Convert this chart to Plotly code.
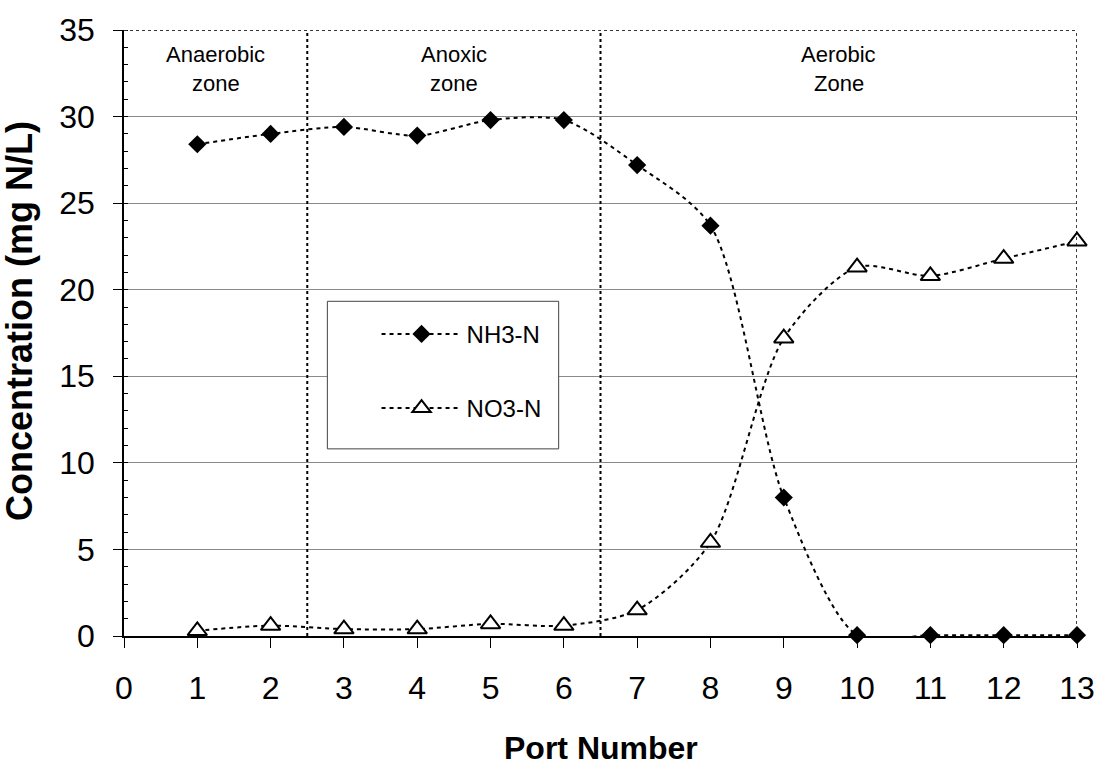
import plotly.graph_objects as go

# Sampling ports along the reactor
ports = [1, 2, 3, 4, 5, 6, 7, 8, 9, 10, 11, 12, 13]

# Measured concentrations (mg N/L)
nh3_n = [28.4, 29.0, 29.4, 28.9, 29.8, 29.8, 27.2, 23.7, 8.0, 0.05, 0.05, 0.05, 0.05]
no3_n = [0.3, 0.6, 0.4, 0.4, 0.7, 0.6, 1.5, 5.4, 17.2, 21.3, 20.8, 21.8, 22.8]

# Zone boundaries (between ports) and their labels
zone_edges = [0, 2.5, 6.5, 13]
zone_labels = [("Anaerobic", "zone"), ("Anoxic", "zone"), ("Aerobic", "Zone")]

FONT = "Liberation Sans, Arial, sans-serif"

fig = go.Figure()

fig.add_trace(go.Scatter(
    x=ports, y=nh3_n, name="NH3-N", mode="lines+markers",
    line=dict(color="black", width=2, dash="4px,4px", shape="spline", smoothing=0.8),
    marker=dict(symbol="diamond", size=14, color="black"),
    cliponaxis=False, legendgroup="a",
))
fig.add_trace(go.Scatter(
    x=ports, y=no3_n, name="NO3-N", mode="lines+markers",
    line=dict(color="black", width=2, dash="4px,4px", shape="spline", smoothing=0.8),
    marker=dict(symbol="triangle-up", size=17, color="white",
                line=dict(color="black", width=2)),
    cliponaxis=False, legendgroup="b",
))

shapes = []
# Zone dividers
for xe in zone_edges[1:-1]:
    shapes.append(dict(type="line", xref="x", yref="y", x0=xe, x1=xe, y0=0, y1=35,
                       line=dict(color="black", width=2, dash="dot"), layer="above"))
# Top and right frame
shapes.append(dict(type="line", xref="x", yref="y", x0=0, x1=13, y0=35, y1=35,
                   line=dict(color="#333333", width=2, dash="dot"), layer="above"))
shapes.append(dict(type="line", xref="x", yref="y", x0=13, x1=13, y0=0, y1=35,
                   line=dict(color="black", width=1.5, dash="dot"), layer="above"))
# Legend frame
shapes.append(dict(type="rect", xref="paper", yref="paper",
                   x0=0.2134, x1=0.4561, y0=0.3088, y1=0.5523,
                   fillcolor="white", line=dict(color="#444444", width=1), layer="above"))

annotations = []
for i, (l1, l2) in enumerate(zone_labels):
    xc = (zone_edges[i] + zone_edges[i + 1]) / 2
    annotations.append(dict(x=xc, y=33.6, xref="x", yref="y", text=l1, showarrow=False,
                            font=dict(family=FONT, size=22, color="black")))
    annotations.append(dict(x=xc, y=31.9, xref="x", yref="y", text=l2, showarrow=False,
                            font=dict(family=FONT, size=22, color="black")))

# Axis titles
annotations.append(dict(x=0.5, y=-0.152, xref="paper", yref="paper", text="<b>Port Number</b>",
                        showarrow=False, yanchor="top",
                        font=dict(family=FONT, size=32, color="black")))
annotations.append(dict(x=-0.109, y=0.52, xref="paper", yref="paper",
                        text="<b>Concentration (mg N/L)</b>", showarrow=False, textangle=-90,
                        xanchor="center",
                        font=dict(family=FONT, size=36, color="black")))

fig.update_layout(
    width=1107, height=769,
    margin=dict(l=124, r=27, t=24, b=133),
    plot_bgcolor="white", paper_bgcolor="white",
    font=dict(family=FONT, color="black"),
    shapes=shapes, annotations=annotations,
    showlegend=True,
    legend=dict(x=0.265, y=0.535, xanchor="left", yanchor="top",
                bgcolor="rgba(0,0,0,0)", borderwidth=0,
                font=dict(family=FONT, size=24, color="black"),
                itemwidth=80, traceorder="grouped", tracegroupgap=40),
    xaxis=dict(range=[0, 13], dtick=1, tick0=0, showgrid=False, zeroline=False,
               showline=True, linecolor="black", linewidth=2,
               ticks="outside", ticklen=10, tickcolor="black", tickwidth=1,
               ticklabelstandoff=13,
               tickfont=dict(family=FONT, size=32, color="black")),
    yaxis=dict(range=[0, 35], dtick=5, tick0=0, showgrid=True, gridcolor="#8a8a8a", gridwidth=1,
               zeroline=False, showline=True, linecolor="black", linewidth=1.5,
               ticks="outside", ticklen=9, tickcolor="black", tickwidth=1,
               ticklabelstandoff=12,
               minor=dict(dtick=1, ticks="inside", ticklen=4, tickcolor="black", showgrid=False),
               tickfont=dict(family=FONT, size=32, color="black")),
)

fig.write_html("out.html")
